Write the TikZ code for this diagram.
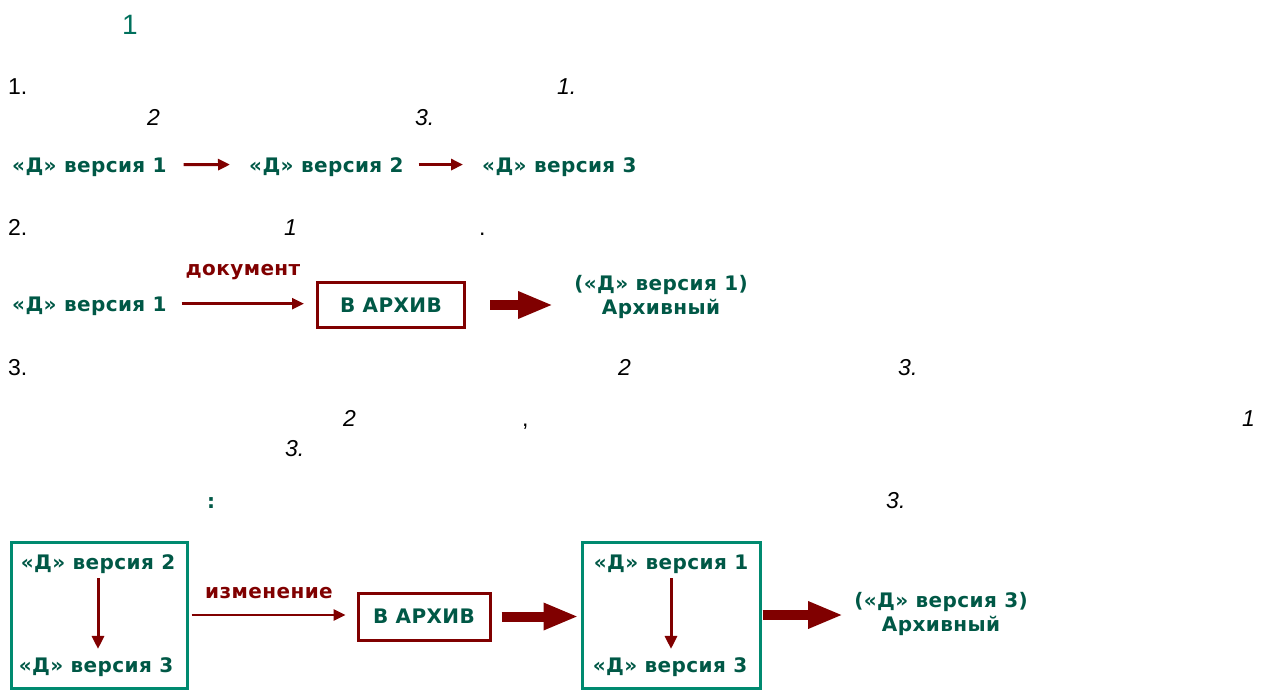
\documentclass[tikz,border=0pt]{standalone}
\usepackage{fontspec}
\setmainfont{Liberation Sans}
\newfontfamily\lblfont[LetterSpace=2]{DejaVu Sans Bold}
\usetikzlibrary{arrows.meta}
\definecolor{tealtxt}{RGB}{0,88,70}
\definecolor{tealttl}{RGB}{0,112,92}
\definecolor{tealbox}{RGB}{0,138,112}
\definecolor{dred}{RGB}{128,0,0}
\begin{document}
\begin{tikzpicture}[x=1pt,y=-1pt,
  body/.style={font=\fontsize{23}{27}\selectfont, anchor=base west, inner sep=0pt},
  bodyit/.style={font=\fontsize{23}{27}\selectfont\itshape, anchor=base west, inner sep=0pt},
  ttl/.style={font=\fontsize{28}{32}\selectfont, text=tealttl, anchor=base west, inner sep=0pt},
  lbl/.style={font=\fontsize{20}{24}\lblfont, text=tealtxt, inner sep=0pt, text depth=0pt},
  redlbl/.style={font=\fontsize{20}{24}\lblfont, text=dred, inner sep=0pt},
  archbox/.style={draw=dred, line width=3pt, font=\fontsize{20}{24}\lblfont, text=tealtxt, inner sep=0pt},
  tbox/.style={draw=tealbox, line width=3pt, inner sep=0pt},
  smallarr/.style={draw=dred, line width=3pt, -{Triangle[length=12pt,width=11pt]}},
  thinarr/.style={draw=dred, line width=2.5pt, -{Triangle[length=12pt,width=11pt]}},
  downarr/.style={draw=dred, line width=3pt, -{Triangle[length=13pt,width=12pt]}},
  thickarr/.style={draw=dred, line width=10pt, -{Triangle[length=35pt,width=25pt]}}
]
\useasboundingbox (0,0) rectangle (1263,690);

% title and text fragments
\node[ttl] (title) at (122,35) {1};
\node[body] (p1) at (8,95) {1.};
\node[bodyit] (p1a) at (557,95) {1.};
\node[bodyit] (p1b) at (147,125) {2};
\node[bodyit] (p1c) at (415,125) {3.};

% row 1
\node[lbl, anchor=base west] (r1a) at (12,172) {«Д» версия 1};
\node[lbl, anchor=base west] (r1b) at (249,172) {«Д» версия 2};
\node[lbl, anchor=base west] (r1c) at (482,172) {«Д» версия 3};
\draw[smallarr, shorten <=17pt, shorten >=19pt] (r1a.east) -- (r1b.west);
\draw[smallarr, shorten <=15pt, shorten >=19pt] (r1b.east) -- (r1c.west);

% item 2
\node[body] (p2) at (8,235) {2.};
\node[bodyit] (p2a) at (284,235) {1};
\node[body] (p2b) at (479,235) {.};

\node[lbl, anchor=base west] (r2a) at (12,311) {«Д» версия 1};
\node[redlbl, anchor=base] (doc) at (243,275) {документ};
\node[archbox, minimum width=147pt, minimum height=45pt] (arch1) at (391,305) {В АРХИВ};
\node[lbl, align=center, anchor=north, text depth=] (res1) at (661,275) {(«Д» версия 1)\\Архивный};
\draw[thinarr, shorten <=15pt, shorten >=12pt] (r2a.east) -- (r2a.east -| arch1.west);
\draw[thickarr, shorten <=24pt, shorten >=21pt] (arch1.east) -- (arch1.east -| res1.west);

% item 3
\node[body] (p3) at (8,375) {3.};
\node[bodyit] (p3a) at (618,375) {2};
\node[bodyit] (p3b) at (898,375) {3.};
\node[bodyit] (p3c) at (343,426) {2};
\node[body] (p3d) at (522,426) {,};
\node[bodyit] (p3e) at (1242,426) {1};
\node[bodyit] (p3f) at (285,456) {3.};
\node[lbl, anchor=base west, text depth=] (colon) at (207,508) {:};
\node[bodyit] (p3g) at (886,508) {3.};

% bottom diagram
\node[tbox, minimum width=176pt, minimum height=146pt] (b1) at (99,615) {};
\node[lbl, anchor=base] (b1t) at (98,569) {«Д» версия 2};
\node[lbl, anchor=base] (b1b) at (96,672) {«Д» версия 3};
\draw[downarr, shorten <=9pt, shorten >=8pt] (b1t.south) -- (b1t.south |- b1b.north);

\node[redlbl, anchor=base] (chg) at (269,598) {изменение};
\node[archbox, minimum width=132pt, minimum height=47pt] (arch2) at (424,616.5) {В АРХИВ};
\draw[thinarr, shorten <=3pt, shorten >=11pt] (b1.east) -- (b1.east -| arch2.west);

\node[tbox, minimum width=178pt, minimum height=146pt] (b2) at (671,615) {};
\node[lbl, anchor=base] (b2t) at (671,569) {«Д» версия 1};
\node[lbl, anchor=base] (b2b) at (670,672) {«Д» версия 3};
\draw[downarr, shorten <=9pt, shorten >=8pt] (b2t.south) -- (b2t.south |- b2b.north);

\draw[thickarr, shorten <=10pt, shorten >=2pt] (arch2.east) -- (arch2.east -| b2.west);

\node[lbl, align=center, anchor=north, text depth=] (res2) at (941,592) {(«Д» версия 3)\\Архивный};
\draw[thickarr, shorten <=1pt, shorten >=11pt] (b2.east) -- (b2.east -| res2.west);
\end{tikzpicture}
\end{document}
